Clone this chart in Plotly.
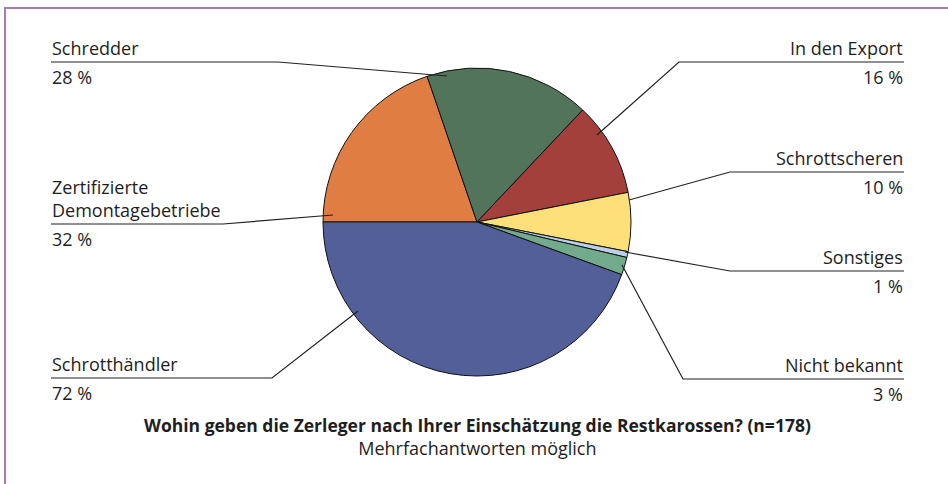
import plotly.graph_objects as go

# Daten im Uhrzeigersinn ab 9 Uhr: Wohin geben die Zerleger die Restkarossen? (n=178)
labels = ["Zertifizierte<br>Demontagebetriebe", "Schredder", "In den Export",
          "Schrottscheren", "Sonstiges", "Nicht bekannt", "Schrotthändler"]
values = [32, 28, 16, 10, 1, 3, 72]
colors = ["#e07d43", "#52745a", "#a3403c", "#fde07a", "#b9d0e8", "#72aa8c", "#525f98"]

W, H = 948, 484
CX, CY, R = 477, 222, 154


def px(x):
    return x / W


def py(y):
    return 1 - y / H


fig = go.Figure(go.Pie(
    labels=labels,
    values=values,
    sort=False,
    direction="clockwise",
    rotation=270,
    textinfo="none",
    hoverinfo="label+value",
    marker=dict(colors=colors, line=dict(color="#111111", width=1)),
    domain=dict(x=[px(CX - R), px(CX + R)], y=[py(CY + R), py(CY - R)]),
    showlegend=False,
))

# Beschriftung: Seite, Linienhöhe, Knick, Endpunkt im Segment (Pixel)
label_pos = {
    "Schrotthändler": ("left", 378, 272, (358, 311)),
    "Nicht bekannt": ("right", 379, 683, (622, 265)),
    "Sonstiges": ("right", 271, 730, (625, 252)),
    "Schrottscheren": ("right", 172, 730, (629, 200)),
    "In den Export": ("right", 62, 679, (597, 135)),
    "Schredder": ("left", 62, 278, (447, 76)),
    "Zertifizierte<br>Demontagebetriebe": ("left", 224, 223, (333, 215)),
}

LEFT_X, RIGHT_X = 51, 904
font = dict(family="Open Sans, sans-serif", size=18, color="#1e1e1e")

for lab, val in zip(labels, values):
    side, ly, ex, (tx, ty) = label_pos[lab]
    outer = LEFT_X if side == "left" else RIGHT_X
    fig.add_shape(
        type="path", xref="paper", yref="paper",
        path=f"M {px(outer)} {py(ly)} L {px(ex)} {py(ly)} L {px(tx)} {py(ty)}",
        line=dict(color="#222222", width=1.2),
    )
    anchor = "left" if side == "left" else "right"
    fig.add_annotation(
        x=px(outer), y=py(ly - 1), xref="paper", yref="paper",
        text=lab, showarrow=False, xanchor=anchor, yanchor="bottom",
        align=anchor, font=font, borderpad=0,
    )
    fig.add_annotation(
        x=px(outer), y=py(ly + 2), xref="paper", yref="paper",
        text=f"{val} %", showarrow=False, xanchor=anchor, yanchor="top",
        align=anchor, font=font, borderpad=0,
    )

# Titel und Hinweis
fig.add_annotation(
    x=px(CX), y=py(436), xref="paper", yref="paper", showarrow=False,
    xanchor="center", yanchor="middle", align="center", borderpad=0,
    text="<b>Wohin geben die Zerleger nach Ihrer Einschätzung die Restkarossen? (n=178)</b>"
         "<br><span style='font-size:18px'>Mehrfachantworten möglich</span>",
    font=dict(family="Open Sans, sans-serif", size=17.5, color="#1e1e1e"),
)

# Rahmen
fig.add_shape(type="path", xref="paper", yref="paper",
              path=f"M {px(5)} {py(H)} L {px(5)} {py(8)} L {px(W)} {py(8)}",
              line=dict(color="#a87db3", width=2))

fig.update_layout(
    width=W, height=H,
    margin=dict(t=0, b=0, l=0, r=0),
    paper_bgcolor="white",
    plot_bgcolor="white",
)

fig.write_html("out.html", config={"displayModeBar": False},
               post_script="document.body.style.margin='0';")
